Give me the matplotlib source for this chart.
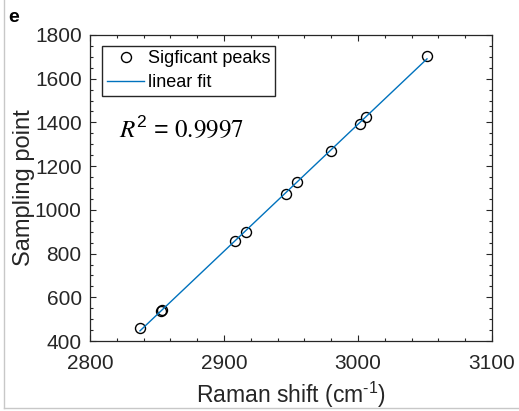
import numpy as np
import matplotlib
matplotlib.use('Agg')
import matplotlib.pyplot as plt
from matplotlib.ticker import MultipleLocator
from matplotlib.lines import Line2D

matplotlib.rcParams['font.family'] = ['Liberation Sans', 'DejaVu Sans']
matplotlib.rcParams['mathtext.fontset'] = 'custom'
matplotlib.rcParams['mathtext.rm'] = 'Liberation Sans'
matplotlib.rcParams['mathtext.it'] = 'Liberation Sans'
matplotlib.rcParams['mathtext.default'] = 'regular'

# peak positions (Raman shift) vs sampling point index
raman_shift = [2837.3, 2853.0, 2854.0, 2908.2, 2916.4, 2946.5, 2954.5,
               2979.6, 3001.5, 3005.7, 3051.5]
sampling_pt = [458, 538, 541, 858, 900, 1074, 1128, 1271, 1391, 1426, 1704]
r2_text = '0.9997'

xticks = [2800, 2900, 3000, 3100]
yticks = [400, 600, 800, 1000, 1200, 1400, 1600, 1800]

axcol = (0.15, 0.15, 0.15)
blue = (0.0, 0.447, 0.741)

xs = np.array(raman_shift)
ys = np.array(sampling_pt)
p = np.polyfit(xs, ys, 1)
xfit = np.array([xs.min(), xs.max()])
yfit = np.polyval(p, xfit)

fig = plt.figure(figsize=(5.19, 4.11), dpi=100)
ax = fig.add_axes([90/519, 70/411, 402/519, 306/411])

ax.plot(xs, ys, 'o', mfc='none', mec='k', ms=7.2, mew=1.0, label='Sigficant peaks')
ax.plot(xfit, yfit, '-', color=blue, lw=1.0, label='linear fit')

ax.set_xlim(2800, 3100)
ax.set_ylim(400, 1800)
ax.set_xticks(xticks)
ax.set_yticks(yticks)
ax.xaxis.set_minor_locator(MultipleLocator(20))
ax.yaxis.set_minor_locator(MultipleLocator(50))
ax.tick_params(which='both', direction='in', top=True, right=True, colors=axcol,
               labelcolor='#262626', labelsize=15)
ax.tick_params(which='major', length=4.5, width=0.8)
ax.tick_params(which='minor', length=2.5, width=0.8)
ax.tick_params(axis='x', which='major', pad=9.5)
ax.tick_params(axis='y', which='major', pad=6)
for s in ax.spines.values():
    s.set_color(axcol)
    s.set_linewidth(0.9)

ax.set_xlabel(r'Raman shift (cm$^{\text{-1}}$)', fontsize=16.5, color='#262626', labelpad=5)
ax.set_ylabel('Sampling point', fontsize=17, color='#262626', labelpad=-0.5)

leg = ax.legend(loc='upper left', bbox_to_anchor=(0.03, 0.965), borderaxespad=0,
                fontsize=13, fancybox=False, framealpha=1, edgecolor=axcol,
                handlelength=2.1, handletextpad=0.2, borderpad=0.25,
                labelspacing=0.4)
leg.get_frame().set_linewidth(1.0)

ax.text(2822.0, 1335, r'$\mathit{R}^{2}\,=\,\mathrm{' + r2_text + r'}$', fontsize=18,
        math_fontfamily='stix', va='baseline', ha='left')

fig.text(8/519, 1 - 22/411, 'e', fontsize=14, fontweight='bold', va='baseline')

# thin panel border on left and bottom
fig.add_artist(Line2D([4/519, 4/519], [3/411, 1], color='#c8c8c8', lw=1.0,
                      transform=fig.transFigure))
fig.add_artist(Line2D([4/519, 1], [3/411, 3/411], color='#c8c8c8', lw=1.0,
                      transform=fig.transFigure))

fig.savefig('out.png', dpi=100)
